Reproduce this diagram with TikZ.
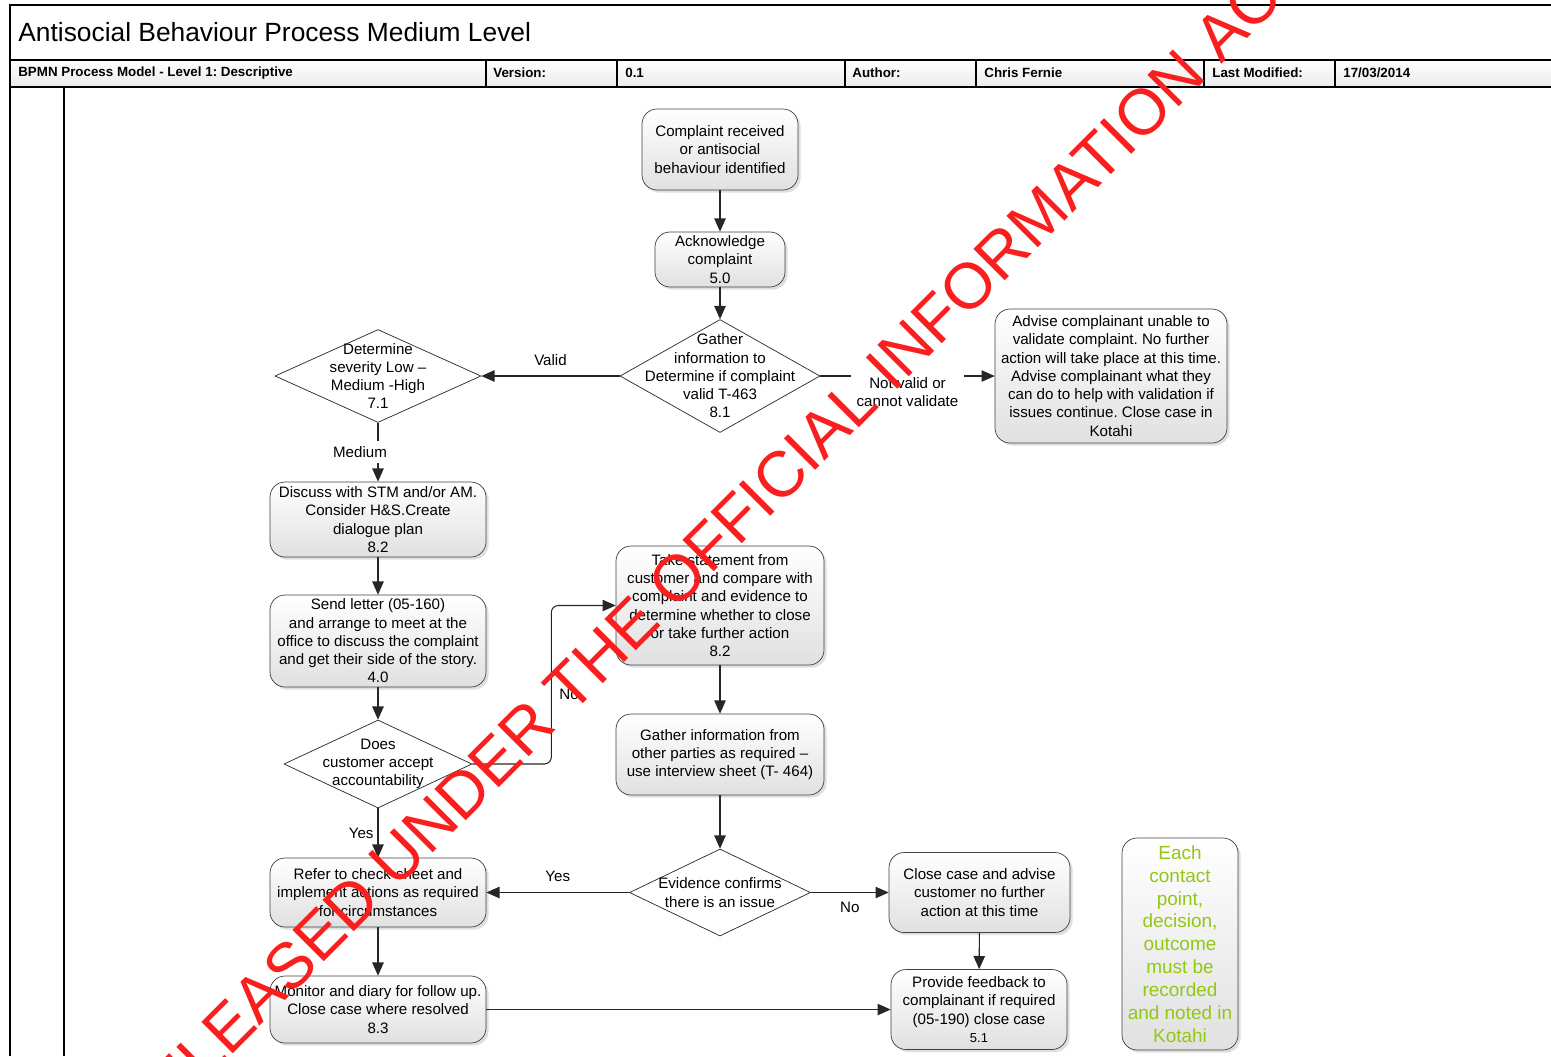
\documentclass[tikz,border=0pt]{standalone}
\usepackage{fontspec}
\setmainfont{Liberation Sans}
\usepackage{xcolor}
\usetikzlibrary{shapes.geometric, arrows.meta, positioning, shadows}
\definecolor{notegreen}{RGB}{146,200,20}
\definecolor{stampred}{RGB}{250,30,30}
\frenchspacing

\begin{document}
\begin{tikzpicture}[x=0.02cm, y=-0.02cm,
    box/.style={draw=black!75, rounded corners=0.3cm, top color=white, bottom color=black!12,
        drop shadow={shadow xshift=1.5pt, shadow yshift=-1.5pt, opacity=0.25},
        align=center, inner sep=1pt, font=\fontsize{8.6}{10.4}\selectfont},
    decision/.style={diamond, draw=black!85, fill=white, inner sep=0pt},
    dtext/.style={align=center, inner sep=0pt, font=\fontsize{8.6}{10.4}\selectfont},
    flow/.style={draw=black!85, line width=0.6pt, -{Triangle[length=7.5pt,width=6.5pt]}},
    lbl/.style={font=\fontsize{8.6}{10.4}\selectfont, inner sep=0pt, align=center},
    hdr/.style={anchor=west, inner sep=0pt, font=\fontsize{7.6}{9}\selectfont\bfseries}]
    \useasboundingbox (0,0) rectangle (1551,1056);

    % Header
    \fill[top color=white, bottom color=black!8] (10,60) rectangle (1551,87);
    \draw[line width=1.1pt] (10,1056) -- (10,5) -- (1551,5);
    \draw[line width=1.3pt] (10,60) -- (1551,60);
    \draw[line width=1.3pt] (10,87) -- (1551,87);
    \draw[line width=1pt] (64,87) -- (64,1056);
    \foreach \x in {486,617,845,976,1204,1335}
        \draw[line width=1pt] (\x,60) -- (\x,87);
    \node[anchor=west, inner sep=0pt, font=\fontsize{15}{18}\selectfont] (title) at (18,32) {Antisocial Behaviour Process Medium Level};
    \node[hdr] (model) at (18,73) {BPMN Process Model - Level 1: Descriptive};
    \node[hdr] (version) at (493,73) {Version:};
    \node[hdr] (versionno) at (625,73) {0.1};
    \node[hdr] (author) at (852,73) {Author:};
    \node[hdr] (authorname) at (984,73) {Chris Fernie};
    \node[hdr] (modified) at (1212,73) {Last Modified:};
    \node[hdr] (date) at (1343,73) {17/03/2014};

    % Steps
    \node[box, minimum width=3.12cm, minimum height=1.62cm] (complaint) at (720,149.5) {Complaint received\\or antisocial\\behaviour identified};
    \node[box, minimum width=2.6cm, minimum height=1.1cm] (ack) at (720,259.5) {Acknowledge\\complaint\\5.0};
    \node[decision, minimum width=4cm, minimum height=2.26cm,
        label={[dtext]center:Gather\\information to\\Determine if complaint\\valid T-463\\8.1}] (gather) at (720,376) {};
    \node[decision, minimum width=4.12cm, minimum height=1.86cm,
        label={[dtext]center:Determine\\severity Low --\\Medium -High\\7.1}] (severity) at (378,376) {};
    \node[box, minimum width=4.64cm, minimum height=2.68cm] (advise) at (1111,376) {Advise complainant unable to\\validate complaint. No further\\action will take place at this time.\\Advise complainant what they\\can do to help with validation if\\issues continue. Close case in\\Kotahi};
    \node[box, minimum width=4.32cm, minimum height=1.5cm] (discuss) at (378,519.5) {Discuss with STM and/or AM.\\Consider H\&S.Create\\dialogue plan\\8.2};
    \node[box, minimum width=4.32cm, minimum height=1.84cm] (letter) at (378,641) {Send letter (05-160)\\and arrange to meet at the\\office to discuss the complaint\\and get their side of the story.\\4.0};
    \node[decision, minimum width=3.76cm, minimum height=1.76cm,
        label={[dtext]center:Does\\customer accept\\accountability}] (accept) at (378,764) {};
    \node[box, minimum width=4.16cm, minimum height=2.38cm] (statement) at (720,605.5) {Take statement from\\customer and compare with\\complaint and evidence to\\determine whether to close\\or take further action\\8.2};
    \node[box, minimum width=4.16cm, minimum height=1.62cm] (parties) at (720,754.5) {Gather information from\\other parties as required --\\use interview sheet (T- 464)};
    \node[decision, minimum width=3.62cm, minimum height=1.74cm,
        label={[dtext]center:Evidence confirms\\there is an issue}] (evidence) at (720,892.5) {};
    \node[box, minimum width=4.32cm, minimum height=1.38cm] (refer) at (378,892.5) {Refer to check-sheet and\\implement actions as required\\for circumstances};
    \node[box, minimum width=3.62cm, minimum height=1.6cm] (close) at (979.5,892.5) {Close case and advise\\customer no further\\action at this time};
    \node[box, minimum width=4.32cm, minimum height=1.34cm] (monitor) at (378,1009.5) {Monitor and diary for follow up.\\Close case where resolved\\8.3};
    \node[box, minimum width=3.52cm, minimum height=1.6cm] (feedback) at (979,1009.5) {Provide feedback to\\complainant if required\\(05-190) close case\\{\fontsize{7.4}{9}\selectfont 5.1}};
    \node[box, minimum width=2.32cm, minimum height=4.24cm, text=notegreen,
        font=\fontsize{10.8}{13}\selectfont] (note) at (1180,944) {Each\\contact\\point,\\decision,\\outcome\\must be\\recorded\\and noted in\\Kotahi};

    % Flow
    \draw[flow] (complaint) -- (ack);
    \draw[flow] (ack) -- (gather);
    \draw[flow] (gather.west) -- node[lbl, above=0.2cm] {Valid} (severity.east);
    \draw[flow] (gather.east) -- node[lbl, fill=white, inner sep=3pt, yshift=-0.32cm] {Not valid or\\cannot validate} (advise.west);
    \draw[flow] (severity.south) -- node[lbl, fill=white, inner ysep=3pt, xshift=-0.36cm] {Medium} (discuss.north);
    \draw[flow] (discuss) -- (letter);
    \draw[flow] (letter) -- (accept);
    \draw[flow, rounded corners=4pt] (accept.east) -- ++(79,0) |- node[lbl, right=0.15cm, pos=0.22] {No} (statement.west);
    \draw[flow] (accept.south) -- node[lbl, left=0.08cm] {Yes} (refer.north);
    \draw[flow] (statement) -- (parties);
    \draw[flow] (parties) -- (evidence);
    \draw[flow] (evidence.west) -- node[lbl, above=0.2cm] {Yes} (refer.east);
    \draw[flow] (evidence.east) -- node[lbl, below=0.18cm] {No} (close.west);
    \draw[flow] (refer) -- (monitor);
    \draw[flow] (close) -- (feedback);
    \draw[flow] (monitor) -- (feedback);

    % Stamp
    \begin{scope}
        \clip (0,0) rectangle (1551,1056);
        \node[rotate=45, text=stampred, inner sep=0pt, font=\fontsize{36.7}{40}\selectfont] (stamp) at (711,544) {RELEASED UNDER THE OFFICIAL INFORMATION ACT};
    \end{scope}
\end{tikzpicture}
\end{document}
